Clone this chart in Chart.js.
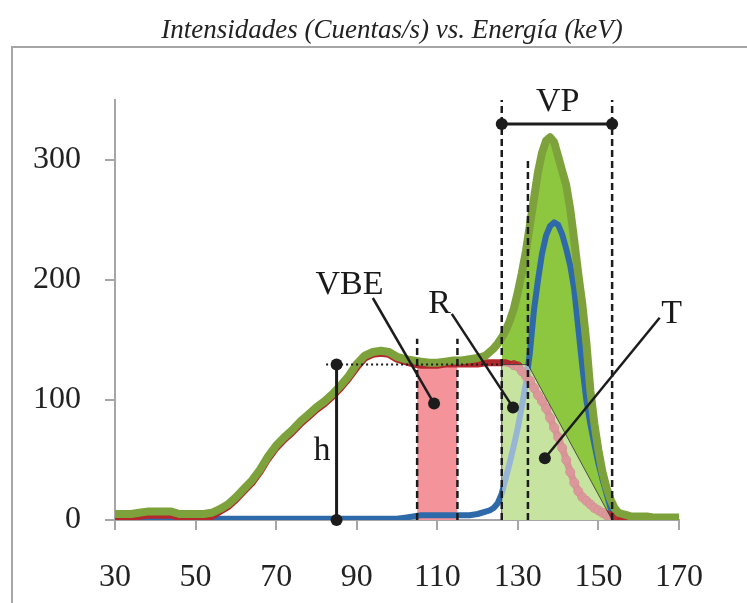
<!DOCTYPE html>
<html>
<head>
<meta charset="utf-8">
<script src="https://cdn.jsdelivr.net/npm/chart.js@4.4.1/dist/chart.umd.min.js"></script>
<style>
  body { margin: 0; background: #fff; }
  canvas { display: block; }
</style>
</head>
<body>
<canvas id="chart" width="747" height="603"></canvas>
<script>
// energia (keV)
var energies = [
  30, 32, 34, 36, 38, 40, 42, 44, 46, 48,
  50, 52, 54, 56, 58, 60, 62, 64, 66, 68,
  70, 72, 74, 76, 78, 80, 82, 84, 86, 88,
  90, 92, 94, 96, 98, 100, 102, 104, 106, 108,
  110, 112, 114, 116, 118, 120, 122,
  123, 124, 125, 126, 127, 128, 129, 130, 131, 132,
  133, 134, 135, 136, 137, 138, 139, 140, 141, 142,
  143, 144, 145, 146, 147, 148, 149, 150, 151, 152,
  153, 154, 155, 156, 157, 158,
  160, 162, 164, 166, 168, 170
];
// espectro total (verde)
var totalCounts = [
  5, 5, 5, 6, 7, 7, 7, 7, 5, 5,
  5, 5, 6, 9, 13, 19, 26, 33, 42, 53,
  62, 69, 75, 82, 88, 94, 99, 105, 112, 120,
  130, 137, 140, 141, 140, 136, 134, 133, 132, 131,
  131, 132, 133, 133, 134, 135, 137,
  140, 143, 147, 152, 158, 166, 176, 190, 206, 224,
  246, 268, 290, 306, 316, 319, 315, 303, 291, 279,
  259, 233, 205, 180, 148, 108, 80, 58, 40, 27,
  17, 10, 6, 5, 4, 3,
  3, 3, 2, 2, 2, 2
];
// fondo (rojo)
var backgroundCounts = [
  2, 2, 2, 3, 4, 4, 4, 4, 2, 2,
  2, 2, 3, 7, 11, 17, 24, 31, 40, 51,
  60, 67, 73, 80, 86, 92, 97, 103, 110, 118,
  127, 135, 138, 139, 138, 134, 132, 130, 129, 129,
  129, 130, 130, 130, 130, 130, 131,
  131, 131, 131, 131, 131, 130, 129, 128, 124, 120,
  116, 110, 104, 99, 93, 85, 77, 69, 60, 50,
  40, 31, 24, 19, 16, 13, 10, 8, 6, 4,
  3, 3, 2, 2, 1, 1,
  1, 1, 0, 0, 0, 0
];
// pico (azul)
var peakCounts = [
  1, 1, 1, 1, 1, 1, 1, 1, 1, 1,
  1, 1, 1, 1, 1, 1, 1, 1, 1, 1,
  1, 1, 1, 1, 1, 1, 1, 1, 1, 1,
  1, 1, 1, 1, 1, 1, 2, 3, 4, 4,
  4, 4, 4, 4, 4, 5, 7,
  8, 10, 14, 22, 35, 48, 62, 77, 95, 114,
  140, 175, 200, 222, 237, 245, 248, 246, 238, 226,
  212, 192, 160, 128, 100, 80, 63, 47, 34, 22,
  10, 4, 2, 1, 0, 0,
  0, 0, 0, 0, 0, 0
];
var xTicks = [30, 50, 70, 90, 110, 130, 150, 170];
var yTicks = [0, 100, 200, 300];

// regiones marcadas (keV / cuentas)
var vpRange = [126, 153.4];
var rEdge = 132.5;
var vbeRange = [105, 115];
var hEnergy = 85;
var baseLevel = 129.5;

var serif = '"Liberation Serif", "Times New Roman", serif';

function pts(ys, from, to) {
  var out = [];
  energies.forEach(function (e, i) {
    if (from === undefined || (e >= from && e <= to)) out.push({ x: e, y: ys[i] });
  });
  return out;
}

var trapezoid = [
  { x: vpRange[0], y: 0 }, { x: vpRange[0], y: baseLevel },
  { x: rEdge, y: baseLevel }, { x: vpRange[1], y: 0 }
];
var vbeBox = [
  { x: vbeRange[0], y: 0 }, { x: vbeRange[0], y: baseLevel },
  { x: vbeRange[1], y: baseLevel }, { x: vbeRange[1], y: 0 }
];

var notes = {
  dashed: [
    [vbeRange[0], 151], [vbeRange[1], 151],
    [vpRange[0], 350], [vpRange[1], 350], [rEdge, 301]
  ],
  vpBar: 330,
  labels: [
    { t: 'VBE', x: 88.2, y: 188 },
    { t: 'R', x: 110.6, y: 172.6 },
    { t: 'T', x: 168.2, y: 164.3 },
    { t: 'VP', x: 139.9, y: 341 },
    { t: 'h', x: 81.4, y: 49.8 }
  ],
  leaders: [
    [94.0, 185, 109.2, 97],
    [113.6, 171.8, 128.8, 93.8],
    [165.2, 168.5, 136.7, 51.5]
  ],
  dotted: [82.4, 126]
};

var frame = {
  id: 'frame',
  beforeDraw: function (chart) {
    var c = chart.ctx;
    c.save();
    c.fillStyle = '#fff';
    c.fillRect(0, 0, chart.width, chart.height);
    c.strokeStyle = '#a6a6a6';
    c.lineWidth = 2;
    c.strokeRect(12, 47, 800, 600);
    c.fillStyle = '#222';
    c.font = 'italic 27px ' + serif;
    c.textAlign = 'center';
    c.textBaseline = 'alphabetic';
    c.fillText('Intensidades (Cuentas/s) vs. Energía (keV)', 392, 38);
    c.restore();
  },
  afterDatasetsDraw: function (chart) {
    var c = chart.ctx, xs = chart.scales.x, ys = chart.scales.y;
    var X = function (v) { return xs.getPixelForValue(v); };
    var Y = function (v) { return ys.getPixelForValue(v); };
    function dot(x, y) {
      c.beginPath(); c.arc(x, y, 6, 0, Math.PI * 2); c.fill();
    }
    c.save();
    c.strokeStyle = '#1c1c1c';
    c.fillStyle = '#1c1c1c';
    // lineas de trazos
    c.lineWidth = 2.5;
    c.setLineDash([7, 4]);
    notes.dashed.forEach(function (d) {
      c.beginPath(); c.moveTo(X(d[0]), Y(0)); c.lineTo(X(d[0]), Y(d[1])); c.stroke();
    });
    // punteada
    c.lineWidth = 2;
    c.setLineDash([2, 3]);
    c.beginPath(); c.moveTo(X(notes.dotted[0]), Y(baseLevel)); c.lineTo(X(notes.dotted[1]), Y(baseLevel)); c.stroke();
    c.setLineDash([]);
    // VP
    c.lineWidth = 3;
    c.beginPath(); c.moveTo(X(vpRange[0]), Y(notes.vpBar)); c.lineTo(X(vpRange[1]), Y(notes.vpBar)); c.stroke();
    dot(X(vpRange[0]), Y(notes.vpBar)); dot(X(vpRange[1]), Y(notes.vpBar));
    // h
    c.beginPath(); c.moveTo(X(hEnergy), Y(baseLevel)); c.lineTo(X(hEnergy), Y(0)); c.stroke();
    dot(X(hEnergy), Y(baseLevel)); dot(X(hEnergy), Y(0));
    // lineas guia
    c.lineWidth = 2.5;
    notes.leaders.forEach(function (l) {
      c.beginPath(); c.moveTo(X(l[0]), Y(l[1])); c.lineTo(X(l[2]), Y(l[3])); c.stroke();
      dot(X(l[2]), Y(l[3]));
    });
    c.font = '34px ' + serif;
    c.textAlign = 'center';
    c.textBaseline = 'alphabetic';
    c.fillStyle = '#1a1a1a';
    notes.labels.forEach(function (l) { c.fillText(l.t, X(l.x), Y(l.y)); });
    c.restore();
  }
};

var axisGrid = { drawOnChartArea: false, drawTicks: true, tickLength: 10, color: '#a6a6a6', lineWidth: 2 };

new Chart(document.getElementById('chart'), {
  type: 'line',
  data: {
    datasets: [
      { data: pts(totalCounts, vpRange[0], 154), borderWidth: 0, backgroundColor: '#8dc63f', fill: 'origin', order: 9 },
      { data: vbeBox, borderWidth: 0, backgroundColor: '#f5939a', fill: 'origin', order: 8 },
      { data: pts(peakCounts), borderColor: '#2e6aa9', borderWidth: 6, order: 6 },
      {
        data: pts(backgroundCounts), borderColor: '#b3282d', borderWidth: 7, order: 5,
        pointRadius: function (ctx) {
          var e = energies[ctx.dataIndex];
          return e >= 129 && e <= 154 ? 4.5 : 0;
        },
        pointBackgroundColor: 'rgba(185,50,55,0.75)', pointBorderColor: '#a82428', pointBorderWidth: 1
      },
      { data: trapezoid, borderColor: 'rgba(50,50,50,0.8)', borderWidth: 1, backgroundColor: 'rgba(255,255,255,0.5)', fill: 'origin', order: 3 },
      { data: pts(totalCounts), borderColor: '#7ea23b', borderWidth: 8, order: 1 }
    ]
  },
  options: {
    responsive: false,
    animation: false,
    events: [],
    layout: { padding: { top: 100, right: 68, left: 0, bottom: 0 } },
    elements: {
      line: { tension: 0, borderJoinStyle: 'round', borderCapStyle: 'round', fill: false },
      point: { radius: 0 }
    },
    plugins: { legend: { display: false }, tooltip: { enabled: false }, title: { display: false } },
    scales: {
      x: {
        type: 'linear', min: 30, max: 170,
        afterBuildTicks: function (s) { s.ticks = xTicks.map(function (v) { return { value: v }; }); },
        ticks: { color: '#222', padding: 28, font: { family: serif, size: 32 }, maxRotation: 0 },
        grid: axisGrid,
        border: { color: '#a6a6a6', width: 2 },
        afterFit: function (s) { s.height = 83; }
      },
      y: {
        min: 0, max: 350,
        afterBuildTicks: function (s) { s.ticks = yTicks.map(function (v) { return { value: v }; }); },
        ticks: { color: '#222', padding: 24, font: { family: serif, size: 32 } },
        grid: axisGrid,
        border: { color: '#a6a6a6', width: 2 },
        afterFit: function (s) { s.width = 115; }
      }
    }
  },
  plugins: [frame]
});
</script>
</body>
</html>
